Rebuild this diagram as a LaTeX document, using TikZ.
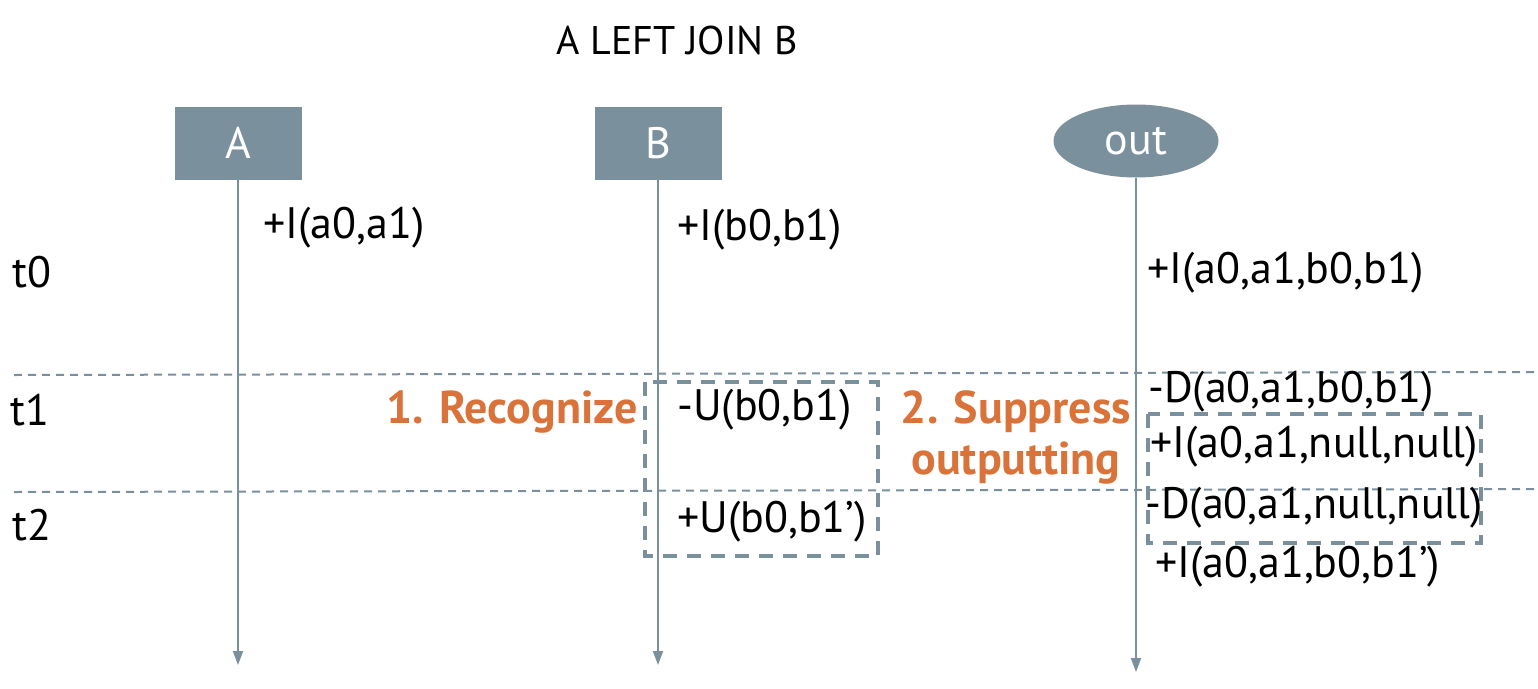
\documentclass[tikz,border=0pt]{standalone}
\usepackage{fontspec}
\setmainfont{PT Sans}
\usetikzlibrary{positioning,arrows.meta,shapes.geometric}
\definecolor{slate}{HTML}{7A909C}
\definecolor{rust}{HTML}{D9733A}
\newcommand{\bodyfont}{\fontsize{44}{50}\selectfont}

\begin{document}
\begin{tikzpicture}[x=1pt,y=-1pt,
    every node/.style={inner sep=0pt,font=\bodyfont},
    actor/.style={fill=slate,text=white,minimum width=127pt,minimum height=73pt},
    sink/.style={ellipse,fill=slate,text=white,minimum width=165pt,minimum height=73pt},
    life/.style={draw=slate,line width=2pt,-{Triangle[length=14pt,width=10pt]}},
    tick/.style={draw=slate,line width=2pt,dash pattern=on 8pt off 6pt},
    frame/.style={draw=slate,line width=4pt,dash pattern=on 14pt off 10pt},
    msg/.style={anchor=west},
    phase/.style={font=\fontsize{46}{51}\selectfont\bfseries,text=rust}]
    \useasboundingbox (0,0) rectangle (1538,688);

    \node at (677,40) (title) {\fontsize{40}{46}\selectfont A LEFT JOIN B};

    % actors and lifelines
    \node[actor] at (238,143) (A) {A};
    \node[actor] at (658,143) (B) {B};
    \node[sink] at (1136,141) (out) {out};
    \coordinate (endA) at (238,665);
    \coordinate (endB) at (658,665);
    \coordinate (endOut) at (1136,672);
    \draw[life] (A) -- (endA);
    \draw[life] (B) -- (endB);
    \draw[life] (out) -- (endOut);

    % time steps
    \node at (32,272) (t0) {t0};
    \node at (30,410) (t1) {t1};
    \node at (32,525) (t2) {t2};
    \coordinate (s1l) at (14,375);
    \coordinate (s1r) at (1538,372);
    \coordinate (s2l) at (14,492);
    \coordinate (s2r) at (1538,489);
    \draw[tick] (s1l) -- (s1r);
    \draw[tick] (s2l) -- (s2r);

    % messages
    \node[msg] at (263,228) (ia) {+I(a0,a1)};
    \node[msg] at (677,230) (ib) {+I(b0,b1)};
    \node[msg] at (1147,273) (io) {+I(a0,a1,b0,b1)};
    \node[msg] at (677,410) (ub) {-U(b0,b1)};
    \node[msg] at (677,522) (ubn) {+U(b0,b1’)};
    \node[msg] at (1148,392) (dab) {-D(a0,a1,b0,b1)};
    \node[msg] at (1150,447) (inull) {+I(a0,a1,null,null)};
    \node[msg] at (1145,508) (dnull) {-D(a0,a1,null,null)};
    \node[msg] at (1155,567) (inew) {+I(a0,a1,b0,b1’)};

    % recognize and suppress
    \draw[frame] (645,382) rectangle (878,556);
    \draw[frame] (1148,414) rectangle (1481,543);
    \node[phase,anchor=east] at (638,412) (rec) {1. Recognize};
    \node[phase,align=center] at (1016,437) (sup) {2. Suppress\\outputting};
\end{tikzpicture}
\end{document}
